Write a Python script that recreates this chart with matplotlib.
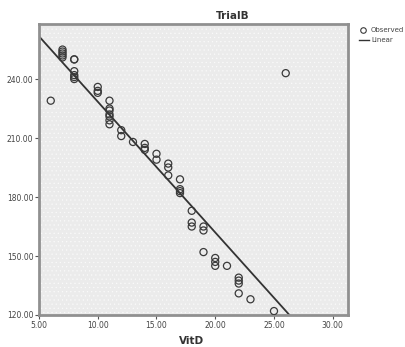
import numpy as np
import matplotlib
matplotlib.use('Agg')
import matplotlib.pyplot as plt
from matplotlib.patches import Rectangle
from matplotlib.lines import Line2D


vitd = [6,
        7, 7, 7, 7, 7,
        8, 8, 8, 8, 8, 8,
        10, 10, 10,
        11, 11, 11, 11, 11, 11, 11,
        12, 12,
        13,
        14, 14, 14,
        15, 15,
        16, 16, 16,
        17, 17, 17, 17,
        18, 18, 18,
        19, 19, 19,
        20, 20, 20,
        21,
        22, 22, 22, 22,
        23, 25, 26]
trialb = [229,
          255, 254, 253, 252, 251,
          250, 250, 244, 242, 241, 240,
          236, 234, 233,
          229, 225, 224, 222, 221, 219, 217,
          214, 211,
          208,
          207, 205, 204,
          202, 199,
          197, 195, 191,
          189, 184, 183, 182,
          173, 167, 165,
          165, 163, 152,
          149, 147, 145,
          145,
          139, 137.5, 136, 131,
          128, 122, 243]

# Linear fit as drawn in the reference
fit_intercept = 295.0
fit_slope = -6.65

x_ticks = [5, 10, 15, 20, 25, 30]
y_ticks = [120, 150, 180, 210, 240]

plt.rcParams['hatch.linewidth'] = 0.4

fig = plt.figure(figsize=(4.06, 3.47), dpi=100)
ax = fig.add_axes([39 / 406, 1 - 315 / 347, 309 / 406, 291 / 347])

# dotted grey panel like SPSS
ax.set_facecolor('#ebebeb')
ax.add_patch(Rectangle((0, 0), 1, 1, transform=ax.transAxes, facecolor='none',
                       edgecolor='#fafafa', hatch='....', linewidth=0, zorder=0))

ax.scatter(vitd, trialb, s=26, facecolors='none', edgecolors='#3a3a3a',
           linewidths=0.9, zorder=3)

xs = np.array([5, 31.5])
ax.plot(xs, fit_intercept + fit_slope * xs, color='#333333', linewidth=1.3, zorder=2)

ax.set_xlim(5, 31.3)
ax.set_ylim(120, 268)
ax.set_xticks(x_ticks)
ax.set_yticks(y_ticks)
ax.set_xticklabels(['%.2f' % t for t in x_ticks])
ax.set_yticklabels(['%.2f' % t for t in y_ticks])
ax.tick_params(labelsize=5.5, length=3, width=0.8, color='#555555',
               labelcolor='#444444', pad=1)

for s in ax.spines.values():
    s.set_color('#909090')
    s.set_linewidth(2)

fig.text(233 / 406, 1 - 16 / 347, 'TrialB', ha='center', va='center',
         fontsize=7.5, fontweight='bold', color='#333333')
fig.text(192 / 406, 1 - 341 / 347, 'VitD', ha='center', va='center',
         fontsize=7.5, fontweight='bold', color='#333333')

# legend drawn at figure level, right of the panel
fig.add_artist(Line2D([363 / 406], [1 - 30 / 347], marker='o', markersize=4,
                      markerfacecolor='none', markeredgecolor='#3a3a3a',
                      markeredgewidth=0.8, linestyle='none'))
fig.add_artist(Line2D([359 / 406, 369 / 406], [1 - 40 / 347, 1 - 40 / 347],
                      color='#333333', linewidth=1))
fig.text(371 / 406, 1 - 30 / 347, 'Observed', ha='left', va='center',
         fontsize=5, color='#444444')
fig.text(371 / 406, 1 - 40 / 347, 'Linear', ha='left', va='center',
         fontsize=5, color='#444444')

fig.savefig('out.png', dpi=100)
